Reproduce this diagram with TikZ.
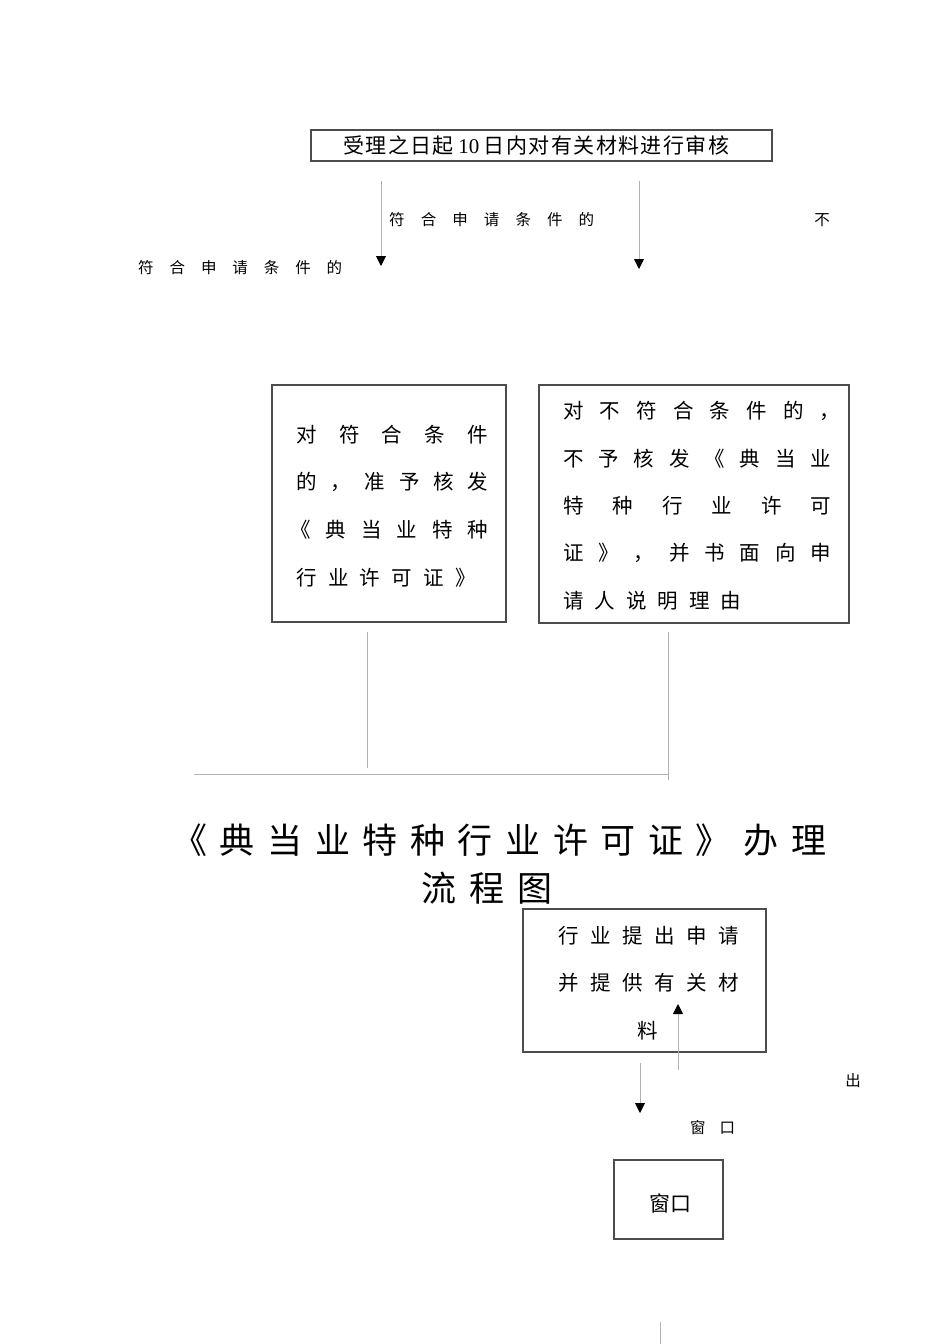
\documentclass[tikz,border=0pt]{standalone}
\usepackage{fontspec}
\setmainfont{Noto Sans CJK SC}
\newfontfamily\digits{Liberation Serif}
\usetikzlibrary{arrows.meta}
\makeatletter
\def\spr@loop#1#2{#1\ifx\relax#2\else\hfill\expandafter\spr@loop\expandafter#2\fi}
\newcommand\spreadhbox[2]{\hbox to #1{\spr@loop#2\relax}}
\makeatother
\newcommand\tenx{{\hspace{3pt}\digits 10\hspace{3pt}}}
\tikzset{
  boxln/.style={draw=black!70, line width=1.1pt},
  conn/.style={draw=black!30, line width=0.9pt},
  arr/.style={conn, -{Triangle[color=black,width=10pt,length=10pt]}},
  txt/.style={inner sep=0pt, anchor=west},
}
\begin{document}
\begin{tikzpicture}[x=1pt,y=-1pt]
\useasboundingbox (0,0) rectangle (950,1344);
% boxes
\draw[boxln] (311,130) rectangle (772,161);
\node[txt, font=\fontsize{21}{21}\selectfont] (t1) at (343,146) {\spreadhbox{386pt}{受理之日起\tenx 日内对有关材料进行审核}};
\draw[boxln] (272,385) rectangle (506,622);
\draw[boxln] (539,385) rectangle (849,623);
\draw[boxln] (523,909) rectangle (766,1052);
\draw[boxln] (614,1160) rectangle (723,1239);
% arrows top
\coordinate (a1s) at (381,181); \coordinate (a1e) at (381,266);
\coordinate (a2s) at (639,181); \coordinate (a2e) at (639,269);
\draw[arr] (a1s) -- (a1e);
\draw[arr] (a2s) -- (a2e);
% labels
\node[txt, font=\fontsize{15.5}{15.5}\selectfont] (l1) at (389,220) {\spreadhbox{205pt}{符合申请条件的}};
\node[inner sep=0pt, font=\fontsize{15.5}{15.5}\selectfont] (l2) at (822,220) {不};
\node[txt, font=\fontsize{15.5}{15.5}\selectfont] (l3) at (138,268) {\spreadhbox{204pt}{符合申请条件的}};
% box texts
\begin{scope}[every node/.style={txt, font=\fontsize{20.5}{20.5}\selectfont}]
\node (L1) at (296,435) {\spreadhbox{192pt}{对符合条件}};
\node (L2) at (296,482) {\spreadhbox{192pt}{的，准予核发}};
\node (L3) at (290,530) {\spreadhbox{198pt}{《典当业特种}};
\node (L4) at (296,578) {\spreadhbox{180pt}{行业许可证》}};
\node (R1) at (563,411) {\spreadhbox{277pt}{对不符合条件的，}};
\node (R2) at (563,459) {\spreadhbox{268pt}{不予核发《典当业}};
\node (R3) at (563,506) {\spreadhbox{268pt}{特种行业许可}};
\node (R4) at (563,553) {\spreadhbox{268pt}{证》，并书面向申}};
\node (R5) at (563,601) {\spreadhbox{178pt}{请人说明理由}};
\node (B1) at (558,936) {\spreadhbox{181pt}{行业提出申请}};
\node (B2) at (558,983) {\spreadhbox{181pt}{并提供有关材}};
\end{scope}
\node[inner sep=0pt, font=\fontsize{20.5}{20.5}\selectfont] (B3) at (648,1031) {料};
% connectors middle
\coordinate (v1s) at (367,632); \coordinate (v1e) at (367,768);
\coordinate (v2s) at (668,632); \coordinate (v2e) at (668,780);
\coordinate (hs) at (194,774); \coordinate (he) at (668,774);
\draw[conn] (v1s) -- (v1e);
\draw[conn] (v2s) -- (v2e);
\draw[conn] (hs) -- (he);
% title
\node[txt, font=\fontsize{35}{35}\selectfont] (T1) at (172,840) {\spreadhbox{654pt}{《典当业特种行业许可证》办理}};
\node[txt, font=\fontsize{35}{35}\selectfont] (T2) at (421,888) {\spreadhbox{131pt}{流程图}};
% lower arrows
\coordinate (u1s) at (678,1070); \coordinate (u1e) at (678,1004);
\coordinate (d1s) at (640,1063); \coordinate (d1e) at (640,1113);
\draw[arr] (u1s) -- (u1e);
\draw[arr] (d1s) -- (d1e);
\node[inner sep=0pt, font=\fontsize{15.5}{15.5}\selectfont] (c1) at (853,1081) {出};
\node[txt, font=\fontsize{15.5}{15.5}\selectfont] (c2) at (690,1128) {\spreadhbox{45pt}{窗口}};
\node[inner sep=0pt, font=\fontsize{21}{21}\selectfont] (w1) at (670,1203) {窗口};
\coordinate (bs) at (660,1322); \coordinate (be) at (660,1344);
\draw[conn] (bs) -- (be);
\end{tikzpicture}
\end{document}
